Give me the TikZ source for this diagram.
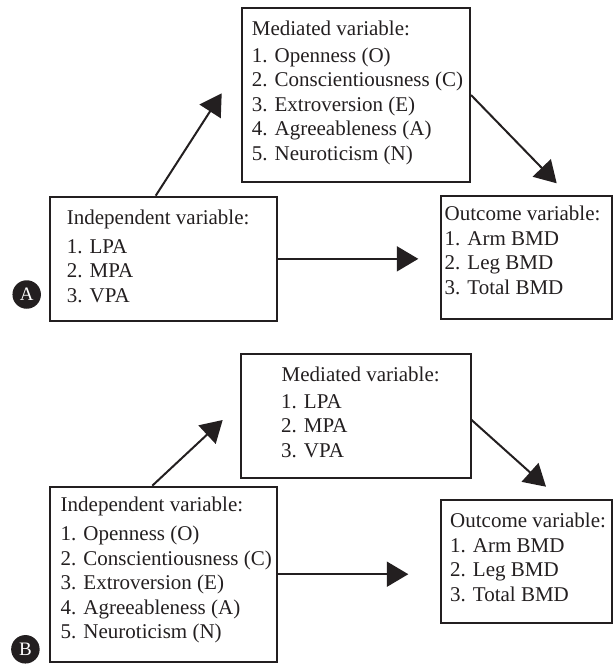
\documentclass[tikz,border=0pt]{standalone}
\usepackage{fontspec}
\setmainfont{Liberation Serif}
\usetikzlibrary{arrows.meta}
\definecolor{ink}{HTML}{231F20}
\begin{document}
\begin{tikzpicture}[x=1pt,y=-1pt,
  box/.style={draw=ink,line width=2pt,rectangle,inner sep=0pt},
  txt/.style={anchor=base west,inner sep=0pt,text=ink,font=\fontsize{21}{24.5}\selectfont},
  conn/.style={draw=ink,line width=2pt,-{Triangle[length=21.5pt,width=25pt]}},
  badge/.style={circle,fill=ink,text=white,minimum size=28.5pt,inner sep=0pt,font=\fontsize{19}{19}\selectfont}]
\useasboundingbox (0,0) rectangle (613,664);

% ---------- Panel A ----------
\node[box,minimum width=228.3pt,minimum height=173.4pt] (medA) at (355.85,95) {};
\node[box,minimum width=226.7pt,minimum height=124.3pt] (indA) at (163.35,258.85) {};
\node[box,minimum width=170.7pt,minimum height=123pt] (outA) at (526.35,257.5) {};

\node[txt] (medAh) at (251.7,35) {Mediated variable:};
\node[txt] (medAl) at (251.7,62) {\begin{tabular}[t]{@{}l@{}}1. Openness (O)\\2. Conscientiousness (C)\\3. Extroversion (E)\\4. Agreeableness (A)\\5. Neuroticism (N)\end{tabular}};

\node[txt] (indAh) at (66.7,224) {Independent variable:};
\node[txt] (indAl) at (66.7,253) {\begin{tabular}[t]{@{}l@{}}1. LPA\\2. MPA\\3. VPA\end{tabular}};

\node[txt] (outAh) at (444.5,220) {Outcome variable:};
\node[txt] (outAl) at (444.5,245) {\begin{tabular}[t]{@{}l@{}}1. Arm BMD\\2. Leg BMD\\3. Total BMD\end{tabular}};

\node[badge] (labA) at (26.7,294.5) {A};

\coordinate (tipA1) at (221.7,93.3);
\coordinate (tipA2) at (556.7,183.3);
\coordinate (tipA3) at (418.3,258.85);
\draw[conn] ([xshift=106.7pt]indA.north west) -- (tipA1);
\draw[conn] (medA.east) -- (tipA2);
\draw[conn] (indA.east) -- (tipA3);

% ---------- Panel B ----------
\node[box,minimum width=229.8pt,minimum height=124.8pt] (medB) at (355.6,415.9) {};
\node[box,minimum width=226.7pt,minimum height=175pt] (indB) at (163.35,574.2) {};
\node[box,minimum width=170.7pt,minimum height=123.3pt] (outB) at (526.35,561.65) {};

\node[txt] (medBh) at (281.5,381.7) {Mediated variable:};
\node[txt] (medBl) at (281,408.3) {\begin{tabular}[t]{@{}l@{}}1. LPA\\2. MPA\\3. VPA\end{tabular}};

\node[txt] (indBh) at (60.5,511.7) {Independent variable:};
\node[txt] (indBl) at (60.5,540.7) {\begin{tabular}[t]{@{}l@{}}1. Openness (O)\\2. Conscientiousness (C)\\3. Extroversion (E)\\4. Agreeableness (A)\\5. Neuroticism (N)\end{tabular}};

\node[txt] (outBh) at (450,527.3) {Outcome variable:};
\node[txt] (outBl) at (450,552.3) {\begin{tabular}[t]{@{}l@{}}1. Arm BMD\\2. Leg BMD\\3. Total BMD\end{tabular}};

\node[badge] (labB) at (25.4,649.3) {B};

\coordinate (tipB1) at (222.7,420);
\coordinate (tipB2) at (546,486.7);
\coordinate (tipB3) at (408.3,574.2);
\draw[conn] ([xshift=103.3pt]indB.north west) -- (tipB1);
\draw[conn] ([yshift=-4pt]medB.east) -- (tipB2);
\draw[conn] (indB.east) -- (tipB3);
\end{tikzpicture}
\end{document}
